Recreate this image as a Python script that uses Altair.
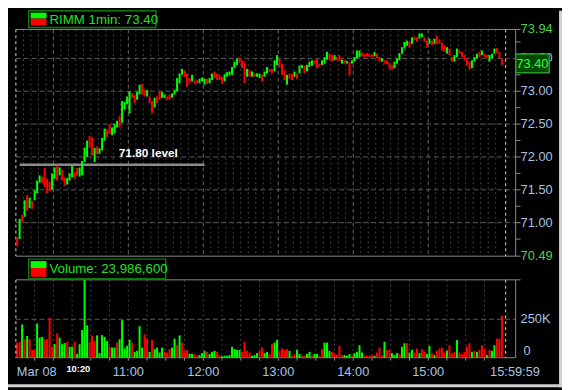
import altair as alt
import pandas as pd

# ---------------- data (2-minute bars, 9:30 -> 16:00) ----------------
low = [
70.64,70.75,71.00,71.09,71.18,71.22,71.21,71.34,71.45,71.61,
71.60,71.54,71.45,71.48,71.50,71.67,71.64,71.72,71.64,71.56,
71.58,71.64,71.69,71.67,71.72,71.70,71.72,71.92,72.00,72.14,
72.02,71.92,72.04,72.05,72.10,72.25,72.30,72.35,72.33,72.36,
72.45,72.45,72.52,72.72,72.80,72.66,72.90,72.82,72.87,72.95,
72.95,72.92,72.92,72.82,72.67,72.75,72.82,72.87,72.90,72.90,
72.87,72.87,72.90,72.95,73.00,73.12,73.25,73.22,73.07,73.12,
73.15,73.11,73.12,73.12,73.15,73.10,73.11,73.12,73.17,73.20,
73.17,73.17,73.11,73.15,73.22,73.24,73.25,73.35,73.40,73.43,
73.35,73.12,73.22,73.22,73.22,73.22,73.22,73.20,73.15,73.22,
73.27,73.29,73.27,73.30,73.40,73.37,73.25,73.17,73.10,73.19,
73.17,73.22,73.19,73.27,73.35,73.27,73.30,73.37,73.39,73.42,
73.35,73.37,73.40,73.42,73.48,73.47,73.45,73.47,73.47,73.45,
73.42,73.42,73.42,73.24,73.42,73.45,73.50,73.52,73.53,73.52,
73.53,73.52,73.52,73.53,73.50,73.45,73.45,73.42,73.41,73.33,
73.33,73.35,73.42,73.47,73.57,73.65,73.69,73.66,73.72,73.78,
73.75,73.80,73.82,73.75,73.66,73.72,73.70,73.72,73.72,73.72,
73.62,73.60,73.57,73.55,73.45,73.45,73.52,73.57,73.52,73.47,
73.40,73.33,73.35,73.45,73.50,73.52,73.55,73.52,73.50,73.45,
73.50,73.57,73.58,73.50,73.40]
high = [
70.78,71.06,71.12,71.34,71.42,71.38,71.33,71.49,71.64,71.72,
71.70,71.83,71.67,71.62,71.75,71.84,71.87,71.84,71.80,71.69,
71.68,71.75,71.86,71.77,71.83,71.84,71.94,72.14,72.25,72.32,
72.30,72.14,72.16,72.13,72.29,72.43,72.42,72.50,72.45,72.50,
72.55,72.62,72.85,72.84,72.92,73.00,72.97,72.94,72.99,73.10,
73.11,73.02,73.02,72.92,72.85,72.90,72.92,73.00,72.99,72.95,
72.92,72.95,72.97,73.02,73.20,73.27,73.34,73.32,73.27,73.20,
73.25,73.16,73.17,73.19,73.21,73.19,73.19,73.20,73.27,73.30,
73.27,73.25,73.22,73.26,73.29,73.30,73.37,73.45,73.50,73.51,
73.47,73.44,73.34,73.32,73.30,73.27,73.27,73.27,73.25,73.30,
73.37,73.34,73.34,73.47,73.55,73.49,73.42,73.32,73.25,73.27,
73.26,73.30,73.27,73.39,73.40,73.39,73.40,73.45,73.47,73.47,
73.49,73.42,73.47,73.52,73.60,73.57,73.55,73.55,73.52,73.55,
73.48,73.47,73.46,73.44,73.47,73.52,73.62,73.62,73.59,73.57,
73.58,73.57,73.56,73.60,73.57,73.52,73.50,73.47,73.47,73.44,
73.40,73.45,73.50,73.58,73.67,73.75,73.77,73.76,73.82,73.83,
73.82,73.88,73.88,73.82,73.77,73.80,73.77,73.80,73.84,73.79,
73.74,73.70,73.67,73.65,73.52,73.55,73.65,73.62,73.60,73.55,
73.50,73.45,73.47,73.52,73.57,73.60,73.62,73.57,73.55,73.55,
73.57,73.65,73.66,73.60,73.50]
bar_dir = ("rgrgrgrggg" "rrrrggrgrr" "gggrrggggr" "rgrgggrrgg" "grggggrrgg"
           "rrgrrgrrgg" "rrgggggrrr" "grrgggrggr" "rrrggggggr" "rrgrgrggrg"
           "grrggrrrgr" "rgrggrgggr" "rrgggrrgrr" "grgrggggrr" "rrrgrrgrrr"
           "rggggggrgr" "rggrrgrgrr" "rrgrrggrrr" "rrgggrgrrg" "ggrrr")
volume_k = [
98,103,216,120,141,120,51,51,222,130,
135,120,120,258,71,88,158,130,88,95,
103,71,71,103,24,88,180,505,210,103,
141,109,145,30,147,135,109,71,66,66,
98,120,244,60,77,115,98,38,45,205,
66,152,124,38,115,56,66,34,66,38,
34,56,66,124,81,145,98,45,51,26,
26,24,13,17,30,45,38,24,38,45,
38,17,9,13,13,17,71,56,51,51,
38,103,45,34,13,17,30,45,66,30,
38,24,88,98,115,45,60,51,56,45,
13,24,51,24,13,13,24,38,13,24,
24,13,56,98,98,45,38,30,19,77,
17,17,13,24,13,30,38,81,34,13,
13,13,17,13,34,66,17,103,51,51,
30,17,30,24,71,94,94,34,51,34,
60,30,56,38,24,77,30,17,45,60,
66,34,45,81,30,38,115,34,24,38,
73,94,38,45,38,51,81,60,17,51,
45,81,124,124,274]
volume_dir = ("rrgrgrrrgg" "grrrrgrggg" "rggrgggggr" "rrgggggrgg" "rgggggrggg"
              "grrgrggggr" "rrggrgrrrg" "grrgggrggg" "rrgggggggg" "rrrrgggrrg"
              "grrggrrrrg" "rrggrrggrg" "grrgggrrrr" "rgggrggggr" "rrrgrrrgrr"
              "gggrggrggr" "rgrrggrgrr" "rrgrrrgrrr" "rrgrgrrrgr" "ggrrr")

price_top, price_bottom = 73.94, 70.49
price_grid = [71.0, 71.5, 72.0, 72.5, 73.0, 73.5]
price_minor = [70.75, 71.25, 71.75, 72.25, 72.75, 73.25, 73.75]
last_price = 73.40
level_price = 71.88
level_label = "71.80 level"
level_span = [3, 151]
level_label_minute = 106
volume_labels = [250]
volume_total = "23,986,600"
symbol = "RIMM 1min"
hour_minutes = [30, 90, 150, 210, 270, 330]
hour_labels = ["11:00", "12:00", "13:00", "14:00", "15:00"]
hour_label_minutes = [90, 150, 210, 270, 330]
date_label = "Mar 08"
spike_label, spike_minute = "10:20", 50
end_label, end_minute = "15:59:59", 390
session_edges = [0, 392]

# ---------------- layout ----------------
W, H = 507, 333          # plot area (both panels)
PH = 230                 # price panel height
VT, VB = 254, 333        # volume panel top/bottom (px)
FONT = "Liberation Sans"
GREEN, RED = "#00ff00", "#ff0000"
LABEL = "#a6c4e6"
BORDER = "#8a8a8a"
GRID = "#5c5c5c"
DOT = "#444444"

xs = alt.Scale(domain=[0, 400], nice=False, zero=False)
ps = alt.Scale(domain=[price_top - (price_top - price_bottom) * H / PH, price_top], nice=False, zero=False)
vs = alt.Scale(domain=[0, 250 * H / 39.0], nice=False, zero=False)

n = len(low)
candles = pd.DataFrame({
    "t0": [2 * i + 0.2 for i in range(n)],
    "t1": [2 * i + 1.8 for i in range(n)],
    "lo": low, "hi": high,
    "c": [GREEN if d == "g" else RED for d in bar_dir],
})
vols = pd.DataFrame({
    "t0": [2 * i + 0.2 for i in range(n)],
    "t1": [2 * i + 1.8 for i in range(n)],
    "v": volume_k, "z": [0] * n,
    "c": [GREEN if d == "g" else RED for d in volume_dir],
})
one = pd.DataFrame({"k": [0]})

X = lambda f: alt.X(f, type="quantitative", scale=xs, axis=None)
PY = lambda f: alt.Y(f, type="quantitative", scale=ps, axis=None)
VY = lambda f: alt.Y(f, type="quantitative", scale=vs, axis=None)

six_min = pd.DataFrame({"m": [m for m in range(6, 390, 6) if m not in hour_minutes]})
quarter = pd.DataFrame({"m": [m for m in range(15, 390, 15)]})
hours = pd.DataFrame({"m": hour_minutes})
edges = pd.DataFrame({"m": session_edges})

price_layers = [
    alt.Chart(six_min).mark_rule(color=DOT, strokeDash=[2, 3]).encode(
        x=X("m"), y=alt.value(0), y2=alt.value(PH)),
    alt.Chart(hours).mark_rule(color="#6a6a6a", strokeDash=[4, 3]).encode(
        x=X("m"), y=alt.value(0), y2=alt.value(PH)),
    alt.Chart(pd.DataFrame({"p": price_grid})).mark_rule(color=GRID, strokeDash=[5, 3]).encode(
        y=PY("p"), x=alt.value(0), x2=alt.value(W)),
    alt.Chart(pd.DataFrame({"p": price_grid + price_minor})).mark_rule(color=BORDER).encode(
        y=PY("p"), x=alt.value(W), x2=alt.value(W + 5)),
    alt.Chart(pd.DataFrame({"p": [price_top, price_bottom]})).mark_rule(color=BORDER).encode(
        y=PY("p"), x=alt.value(0), x2=alt.value(W + 5)),
    alt.Chart(one).mark_rule(color=BORDER).encode(
        x=alt.value(W), y=alt.value(0), y2=alt.value(PH)),
    alt.Chart(edges).mark_rule(color="#d8d8d8", strokeDash=[3, 3]).encode(
        x=X("m"), y=alt.value(0), y2=alt.value(PH)),
    alt.Chart(pd.DataFrame({"a": [level_span[0]], "b": [level_span[1]], "p": [level_price]}))
        .mark_rule(color="#8c8c8c", strokeWidth=2.5).encode(x=X("a"), x2="b", y=PY("p")),
    alt.Chart(candles).mark_rect().encode(
        x=X("t0"), x2="t1", y=PY("lo"), y2="hi", color=alt.Color("c:N", scale=None)),
    alt.Chart(pd.DataFrame({"m": [level_label_minute], "p": [level_price], "s": [level_label]}))
        .mark_text(font=FONT, fontSize=12, fontWeight="bold", color="white", dy=-12)
        .encode(x=X("m"), y=PY("p"), text="s:N"),
    alt.Chart(pd.DataFrame({"p": price_grid})).mark_text(
        font=FONT, fontSize=13, color=LABEL, align="left", baseline="middle").encode(
        y=PY("p"), x=alt.value(W + 5), text=alt.Text("p:Q", format=".2f")),
    alt.Chart(pd.DataFrame({"p": [price_top, price_bottom]})).mark_text(
        font=FONT, fontSize=13, color="#4cd04c", align="left", baseline="middle").encode(
        y=PY("p"), x=alt.value(W + 5), text=alt.Text("p:Q", format=".2f")),
    alt.Chart(one).mark_rect(fill="#004a00", stroke="#2e9a2e", strokeWidth=1.5).encode(
        x=alt.value(W), x2=alt.value(W + 34), y=alt.value(25), y2=alt.value(44)),
    alt.Chart(pd.DataFrame({"p": [last_price]})).mark_text(
        font=FONT, fontSize=13, color="#3cff3c", align="center", baseline="middle").encode(
        x=alt.value(W + 17), y=alt.value(35), text=alt.Text("p:Q", format=".2f")),
    # legend
    alt.Chart(one).mark_rect(fill="black", stroke="#0a7a0a", strokeWidth=1.5).encode(
        x=alt.value(13), x2=alt.value(142), y=alt.value(-19), y2=alt.value(-2)),
    alt.Chart(one).mark_rect(fill=GREEN).encode(
        x=alt.value(15), x2=alt.value(31), y=alt.value(-17), y2=alt.value(-11)),
    alt.Chart(one).mark_rect(fill=RED).encode(
        x=alt.value(15), x2=alt.value(31), y=alt.value(-11), y2=alt.value(-4)),
    alt.Chart(pd.DataFrame({"s": [f"{symbol}: {last_price:.2f}"]})).mark_text(
        font=FONT, fontSize=13.5, color="#22e022", align="left", baseline="middle").encode(
        x=alt.value(34), y=alt.value(-10), text="s:N"),
]

vol_layers = [
    alt.Chart(quarter).mark_rule(color=DOT, strokeDash=[2, 3]).encode(
        x=X("m"), y=alt.value(VT), y2=alt.value(VB)),
    alt.Chart(pd.DataFrame({"v": volume_labels})).mark_rule(color=GRID, strokeDash=[5, 3]).encode(
        y=VY("v"), x=alt.value(0), x2=alt.value(W)),
    alt.Chart(one).mark_rule(color=BORDER).encode(
        y=alt.value(VT), x=alt.value(0), x2=alt.value(W + 5)),
    alt.Chart(one).mark_rule(color=BORDER).encode(
        y=alt.value(VB), x=alt.value(0), x2=alt.value(W)),
    alt.Chart(one).mark_rule(color=BORDER).encode(
        x=alt.value(W), y=alt.value(VT), y2=alt.value(VB)),
    alt.Chart(quarter).mark_rule(color=BORDER).encode(
        x=X("m"), y=alt.value(VB), y2=alt.value(VB + 3)),
    alt.Chart(vols).mark_rect().encode(
        x=X("t0"), x2="t1", y=VY("v"), y2="z", color=alt.Color("c:N", scale=None)),
    alt.Chart(edges).mark_rule(color="#d8d8d8", strokeDash=[3, 3]).encode(
        x=X("m"), y=alt.value(VT), y2=alt.value(VB)),
    alt.Chart(pd.DataFrame({"v": volume_labels, "s": ["250K"]})).mark_text(
        font=FONT, fontSize=13, color=LABEL, align="left", baseline="middle").encode(
        y=VY("v"), x=alt.value(W + 5), text="s:N"),
    alt.Chart(pd.DataFrame({"s": ["0"]})).mark_text(
        font=FONT, fontSize=13, color=LABEL, align="left", baseline="middle").encode(
        y=alt.value(VB - 7), x=alt.value(W + 8), text="s:N"),
    alt.Chart(pd.DataFrame({"m": hour_label_minutes, "s": hour_labels})).mark_text(
        font=FONT, fontSize=13, color=LABEL, align="center", baseline="middle").encode(
        x=X("m"), y=alt.value(VB + 15), text="s:N"),
    alt.Chart(pd.DataFrame({"m": [0], "s": [date_label]})).mark_text(
        font=FONT, fontSize=13, color=LABEL, align="left", baseline="middle", dx=1).encode(
        x=X("m"), y=alt.value(VB + 15), text="s:N"),
    alt.Chart(pd.DataFrame({"m": [end_minute], "s": [end_label]})).mark_text(
        font=FONT, fontSize=13, color=LABEL, align="center", baseline="middle", dx=12).encode(
        x=X("m"), y=alt.value(VB + 15), text="s:N"),
    alt.Chart(pd.DataFrame({"m": [spike_minute], "s": [spike_label]})).mark_text(
        font=FONT, fontSize=9.5, fontWeight="bold", color="white", align="center", baseline="middle").encode(
        x=X("m"), y=alt.value(VB + 12), text="s:N"),
    # legend
    alt.Chart(one).mark_rect(fill="black", stroke="#0a7a0a", strokeWidth=1.5).encode(
        x=alt.value(13), x2=alt.value(152), y=alt.value(233), y2=alt.value(253)),
    alt.Chart(one).mark_rect(fill=GREEN).encode(
        x=alt.value(15), x2=alt.value(31), y=alt.value(235), y2=alt.value(242)),
    alt.Chart(one).mark_rect(fill=RED).encode(
        x=alt.value(15), x2=alt.value(31), y=alt.value(242), y2=alt.value(251)),
    alt.Chart(pd.DataFrame({"s": [f"Volume: {volume_total}"]})).mark_text(
        font=FONT, fontSize=13.5, color="#22e022", align="left", baseline="middle").encode(
        x=alt.value(34), y=alt.value(243), text="s:N"),
    # window frame (right / bottom)
    alt.Chart(one).mark_rect(fill="#d0d0d0").encode(
        x=alt.value(W + 44), x2=alt.value(W + 47), y=alt.value(-19), y2=alt.value(H + 30)),
    alt.Chart(one).mark_rect(fill="#d0d0d0").encode(
        x=alt.value(-8), x2=alt.value(W + 47), y=alt.value(H + 27), y2=alt.value(H + 30)),
]

chart = alt.layer(
    alt.layer(*price_layers),
    alt.layer(*vol_layers),
).resolve_scale(y="independent").properties(
    width=W, height=H,
    padding={"left": 8, "top": 19, "right": 47, "bottom": 30},
    autosize=alt.AutoSizeParams(type="none"),
    background="black",
).configure_view(strokeWidth=0)

chart.save("out.html", embed_options={"renderer": "svg", "actions": False})
